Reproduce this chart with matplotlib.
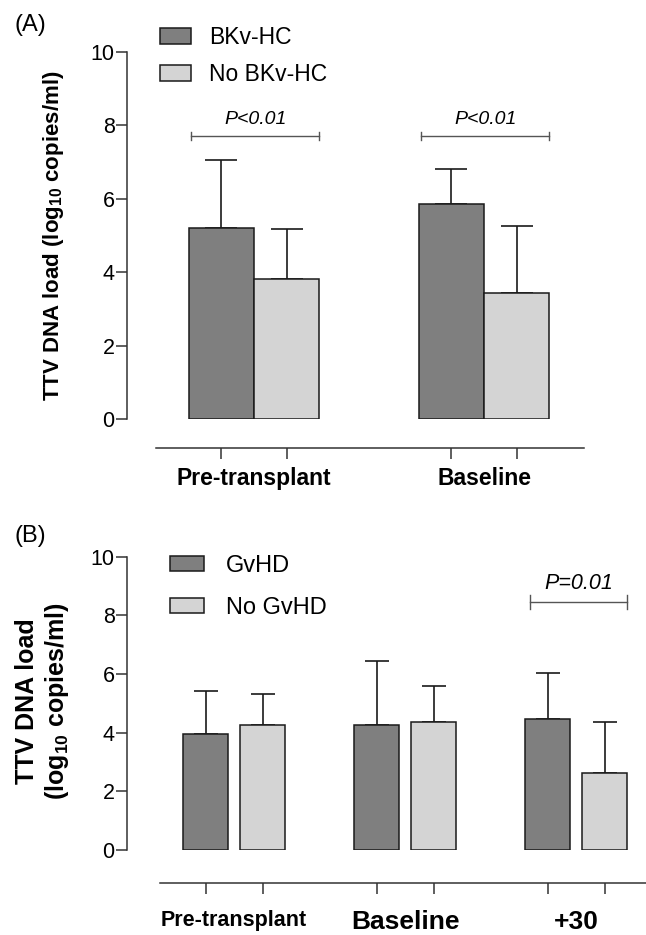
import numpy as np
import matplotlib
matplotlib.use("Agg")
import matplotlib.pyplot as plt
from matplotlib.patches import Patch

plt.rcParams['font.family'] = ['Liberation Sans', 'DejaVu Sans']
plt.rcParams['mathtext.fontset'] = 'custom'
plt.rcParams['mathtext.rm'] = 'Liberation Sans'
plt.rcParams['mathtext.bf'] = 'Liberation Sans:bold'

# panel A data
groups_a = ['Pre-transplant', 'Baseline']
bk_mean = [5.21, 5.86]
bk_sd = [1.85, 0.96]
nobk_mean = [3.81, 3.42]
nobk_sd = [1.36, 1.84]
pvals_a = ['P<0.01', 'P<0.01']

# panel B data
groups_b = ['Pre-transplant', 'Baseline', '+30']
gv_mean = [3.96, 4.27, 4.47]
gv_sd = [1.47, 2.17, 1.56]
nogv_mean = [4.25, 4.37, 2.62]
nogv_sd = [1.06, 1.23, 1.73]
pval_b = 'P=0.01'

dark = '#7f7f7f'
light = '#d4d4d4'
edge = '#1a1a1a'
axcol = '#333333'

fig = plt.figure(figsize=(6.46, 9.35), dpi=100)


def style_axis(ax, xmin, xmax, offset):
    ax.spines['top'].set_visible(False)
    ax.spines['right'].set_visible(False)
    ax.spines['left'].set_bounds(0, 10)
    ax.spines['bottom'].set_position(('outward', offset))
    ax.spines['bottom'].set_bounds(xmin, xmax)
    for s in ['left', 'bottom']:
        ax.spines[s].set_color(axcol)
        ax.spines[s].set_linewidth(1.1)
    ax.set_ylim(0, 10)
    ax.set_yticks([0, 2, 4, 6, 8, 10])
    ax.tick_params(axis='y', length=8, width=1.1, color=axcol, labelsize=15.5, pad=1)
    ax.tick_params(axis='x', which='major', length=8, width=1.1, color=axcol)
    ax.tick_params(axis='x', which='minor', length=0)


def bars(ax, x, mean, sd, width, color, capsize):
    ax.bar(x, mean, width, color=color, edgecolor=edge, linewidth=1.1, zorder=3)
    ax.errorbar(x, mean, yerr=[np.zeros(len(mean)), sd], fmt='none', ecolor=edge,
                elinewidth=1.2, capsize=capsize, capthick=1.2, zorder=2)


def bracket(ax, x0, x1, y, label, h, size, gap):
    ax.plot([x0, x1], [y, y], color='#555555', lw=1.0, clip_on=False)
    ax.plot([x0, x0], [y - h, y + h], color='#555555', lw=1.0, clip_on=False)
    ax.plot([x1, x1], [y - h, y + h], color='#555555', lw=1.0, clip_on=False)
    ax.text((x0 + x1) / 2, y + gap, label, ha='center', va='bottom',
            fontsize=size, style='italic', clip_on=False)


# ---------- panel A ----------
axA = fig.add_axes([127 / 646, 1 - 419 / 935, 473 / 646, 367 / 935])
w = 0.283
xa = np.arange(len(groups_a))
bars(axA, xa - w / 2, bk_mean, bk_sd, w, dark, 11.5)
bars(axA, xa + w / 2, nobk_mean, nobk_sd, w, light, 11.5)
axA.set_xlim(-0.552, 1.504)
style_axis(axA, -0.427, 1.433, 20.7)
axA.set_xticks(np.concatenate([xa - w / 2, xa + w / 2]), labels=[])
axA.set_xticks(xa, labels=groups_a, minor=True)
axA.tick_params(axis='x', which='minor', pad=14, labelsize=16.5)
for lab in axA.get_xticklabels(minor=True):
    lab.set_fontweight('bold')
for i, p in enumerate(pvals_a):
    bracket(axA, i - w + 0.01, i + w, 7.71, p, 0.12, 14, 0.22)
axA.set_ylabel(r'TTV DNA load (log$_{\mathbf{10}}$ copies/ml)', fontsize=16,
               fontweight='bold')
axA.yaxis.set_label_coords(-0.13, 0.5)
axA.legend(handles=[Patch(facecolor=dark, edgecolor=edge, lw=1.1, label='BKv-HC'),
                    Patch(facecolor=light, edgecolor=edge, lw=1.1, label='No BKv-HC')],
           loc='upper left', bbox_to_anchor=(160 / 646, 1 - 26 / 935),
           bbox_transform=fig.transFigure, frameon=False, fontsize=16.5,
           handlelength=1.35, handleheight=0.7, handletextpad=0.8,
           labelspacing=0.62, borderpad=0, borderaxespad=0)
fig.text(15 / 646, 1 - 25 / 935, '(A)', fontsize=17, va='center', ha='left')

# ---------- panel B ----------
axB = fig.add_axes([127 / 646, 1 - 850 / 935, 519 / 646, 293.3 / 935])
wb = 0.263
off = 0.1667
xb = np.arange(len(groups_b))
bars(axB, xb - off, gv_mean, gv_sd, wb, dark, 8.3)
bars(axB, xb + off, nogv_mean, nogv_sd, wb, light, 8.3)
axB.set_xlim(-0.626, 2.409)
style_axis(axB, -0.433, 2.409, 23.5)
axB.set_xticks(np.concatenate([xb - off, xb + off]), labels=[])
axB.set_xticks(xb, labels=groups_b, minor=True)
axB.tick_params(axis='x', which='minor', pad=20, labelsize=19)
for lab in axB.get_xticklabels(minor=True):
    lab.set_fontweight('bold')
axB.get_xticklabels(minor=True)[0].set_fontsize(15.5)
bracket(axB, 2 - off - wb / 2 + 0.03, 2 + off + wb / 2, 8.44, pval_b, 0.24, 15.5, 0.3)
axB.set_ylabel('TTV DNA load\n' + r'(log$_{\mathbf{10}}$ copies/ml)', fontsize=18,
               fontweight='bold', linespacing=1.2)
axB.yaxis.set_label_coords(-0.108, 0.508)
axB.legend(handles=[Patch(facecolor=dark, edgecolor=edge, lw=1.1, label='GvHD'),
                    Patch(facecolor=light, edgecolor=edge, lw=1.1, label='No GvHD')],
           loc='upper left', bbox_to_anchor=(170 / 646, 1 - 555 / 935),
           bbox_transform=fig.transFigure, frameon=False, fontsize=17,
           handlelength=1.44, handleheight=0.6, handletextpad=0.93,
           labelspacing=0.84, borderpad=0, borderaxespad=0)
fig.text(15 / 646, 1 - 536 / 935, '(B)', fontsize=17, va='center', ha='left')

fig.savefig('out.png', dpi=100)
